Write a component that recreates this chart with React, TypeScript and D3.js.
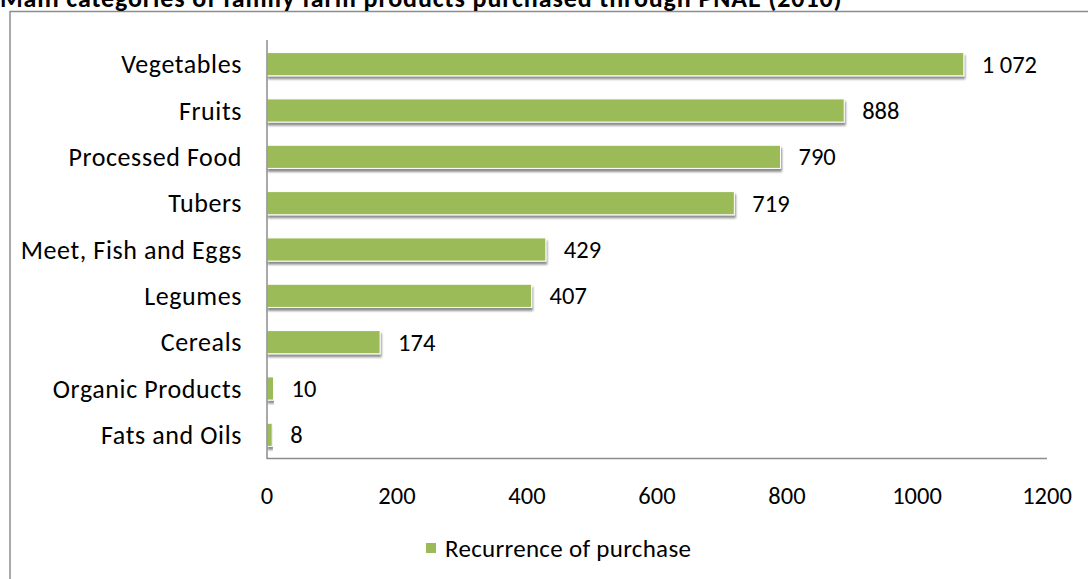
import React from "react";
import * as d3 from "d3";

const categories = [
  "Vegetables",
  "Fruits",
  "Processed Food",
  "Tubers",
  "Meet, Fish and Eggs",
  "Legumes",
  "Cereals",
  "Organic Products",
  "Fats and Oils",
];
const values = [1072, 888, 790, 719, 429, 407, 174, 10, 8];
const xTicks = [0, 200, 400, 600, 800, 1000, 1200];
const title = "Main categories of family farm products purchased through PNAE (2010)";
const seriesName = "Recurrence of purchase";

const W = 1088;
const H = 579;
const FONT = "Carlito, Calibri, 'Open Sans', sans-serif";

export default function App() {
  const x = d3.scaleLinear().domain([0, 1200]).range([267, 1047]);
  const y = d3.scaleBand<string>().domain(categories).range([41, 458]).paddingInner(0.5).paddingOuter(0.25);
  const fmt = (v: number) => (v >= 1000 ? d3.format(",")(v).replace(/,/g, " ") : String(v));
  const green = "#9bbb59";
  return (
    <svg width={W} height={H} style={{ position: "absolute", left: 0, top: 0, background: "#fff" }}>
      <defs>
        <filter id="sh" x="-5%" y="-20%" width="110%" height="160%">
          <feGaussianBlur in="SourceAlpha" stdDeviation="1.2" />
          <feOffset dx="1" dy="2.5" result="b" />
          <feComponentTransfer><feFuncA type="linear" slope="0.45" /></feComponentTransfer>
          <feMerge><feMergeNode /><feMergeNode in="SourceGraphic" /></feMerge>
        </filter>
      </defs>
      <rect x={0} y={0} width={W} height={H} fill="#fff" />
      {/* frame */}
      <line x1={10} y1={11.5} x2={W} y2={11.5} stroke="#8c8c8c" strokeWidth={1.5} />
      <line x1={10} y1={11} x2={10} y2={H} stroke="#8c8c8c" strokeWidth={1.5} />
      <text x={0} y={7} fontFamily={FONT} fontWeight="bold" fontSize={26} letterSpacing={0.9} fill="#000">{title}</text>
      {/* bars */}
      {categories.map((c, i) => (
        <g key={c}>
          <rect x={x(0)} y={y(c)!} width={x(values[i]) - x(0)} height={y.bandwidth()} fill={green} stroke="#fff" strokeWidth={1} filter="url(#sh)" />
          <text x={x(values[i]) + 18} y={y(c)! + y.bandwidth() / 2} dy="0.35em" fontFamily={FONT} fontSize={24.5} fill="#000">{fmt(values[i])}</text>
          <text x={242} y={y(c)! + y.bandwidth() / 2} dy="0.35em" textAnchor="end" fontFamily={FONT} fontSize={26} letterSpacing={0.6} fill="#000">{c}</text>
        </g>
      ))}
      {/* axes */}
      <line x1={x(0)} y1={40} x2={x(0)} y2={459} stroke="#8c8c8c" strokeWidth={1.5} />
      <line x1={x(0)} y1={458.5} x2={x(1200)} y2={458.5} stroke="#8c8c8c" strokeWidth={1.5} />
      {xTicks.map((t) => (
        <text key={t} x={x(t)} y={495} dy="0.35em" textAnchor="middle" fontFamily={FONT} fontSize={24.5} fill="#000">{t}</text>
      ))}
      {/* legend */}
      <rect x={426} y={543} width={10} height={10} fill={green} />
      <text x={445} y={548} dy="0.35em" fontFamily={FONT} fontSize={25} letterSpacing={0.3} fill="#000">{seriesName}</text>
    </svg>
  );
}
